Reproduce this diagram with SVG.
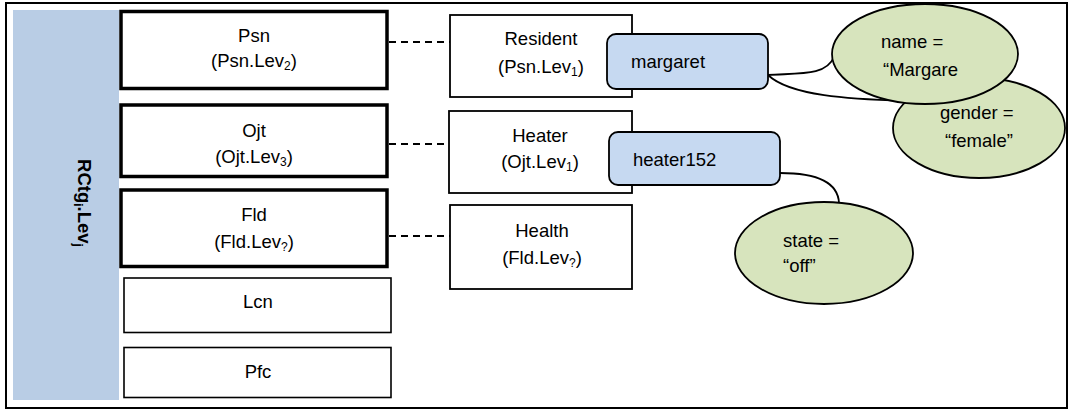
<svg xmlns="http://www.w3.org/2000/svg" width="1070" height="412" viewBox="0 0 1070 412">
  <style>
    text { font-family: "Liberation Sans", Arial, sans-serif; font-size: 18.5px; fill: #000; }
    .mid { text-anchor: middle; }
    .sub { font-size: 12px; }
    .cat { fill: #fff; stroke: #000; stroke-width: 3.5; }
    .catthin { fill: #fff; stroke: #000; stroke-width: 1.6; }
    .cls { fill: #fff; stroke: #000; stroke-width: 1.8; }
    .inst { fill: #c6d9f1; stroke: #000; stroke-width: 1.8; }
    .attr { fill: #d7e4bd; stroke: #000; stroke-width: 1.8; }
    .dash { stroke: #000; stroke-width: 2; stroke-dasharray: 7 5; fill: none; }
    .link { stroke: #000; stroke-width: 1.8; fill: none; }
  </style>

  <!-- outer frame -->
  <rect x="6" y="3" width="1061" height="405" fill="#fff" stroke="#000" stroke-width="2"/>

  <!-- category band -->
  <g id="band">
    <rect x="13" y="10" width="106" height="390" fill="#b9cde5"/>
    <text transform="translate(78,203) rotate(90)" class="mid" font-weight="bold" font-size="17">RCtg<tspan class="sub" dy="4">i</tspan><tspan dy="-4">.Lev</tspan><tspan class="sub" dy="4">j</tspan></text>
  </g>

  <!-- connectors -->
  <g id="connectors">
    <line class="dash" x1="389" y1="42" x2="450" y2="42"/>
    <line class="dash" x1="389" y1="144" x2="449" y2="144"/>
    <line class="dash" x1="389" y1="236" x2="450" y2="236"/>
    <path class="link" d="M768,75 C800,73 826,76 834,57"/>
    <path class="link" d="M768,75 C790,96 850,99 905,101"/>
    <path class="link" d="M780,173 C815,173 838,182 839,203"/>
  </g>

  <!-- category boxes -->
  <g id="psn">
    <rect class="cat" x="121" y="11.5" width="266" height="77"/>
    <text class="mid" x="254" y="42">Psn</text>
    <text class="mid" x="254" y="67">(Psn.Lev<tspan class="sub" dy="3">2</tspan><tspan dy="-3">)</tspan></text>
  </g>
  <g id="ojt">
    <rect class="cat" x="121" y="105" width="266" height="71.5"/>
    <text class="mid" x="254" y="137">Ojt</text>
    <text class="mid" x="254" y="163">(Ojt.Lev<tspan class="sub" dy="3">3</tspan><tspan dy="-3">)</tspan></text>
  </g>
  <g id="fld">
    <rect class="cat" x="121" y="190" width="266" height="76.5"/>
    <text class="mid" x="254" y="221">Fld</text>
    <text class="mid" x="254" y="248">(Fld.Lev<tspan class="sub" dy="3">?</tspan><tspan dy="-3">)</tspan></text>
  </g>
  <g id="lcn">
    <rect class="catthin" x="124" y="278" width="267" height="54.5"/>
    <text class="mid" x="258" y="308">Lcn</text>
  </g>
  <g id="pfc">
    <rect class="catthin" x="124" y="347.5" width="267" height="50"/>
    <text class="mid" x="258" y="378">Pfc</text>
  </g>

  <!-- classes -->
  <g id="resident">
    <rect class="cls" x="450" y="15" width="182" height="82"/>
    <text class="mid" x="541" y="45">Resident</text>
    <text class="mid" x="541" y="73">(Psn.Lev<tspan class="sub" dy="3">1</tspan><tspan dy="-3">)</tspan></text>
  </g>
  <g id="heater">
    <rect class="cls" x="449" y="111" width="183" height="82"/>
    <text class="mid" x="540" y="142">Heater</text>
    <text class="mid" x="540" y="168">(Ojt.Lev<tspan class="sub" dy="3">1</tspan><tspan dy="-3">)</tspan></text>
  </g>
  <g id="health">
    <rect class="cls" x="450" y="205" width="182" height="84"/>
    <text class="mid" x="542" y="237">Health</text>
    <text class="mid" x="542" y="264">(Fld.Lev<tspan class="sub" dy="3">?</tspan><tspan dy="-3">)</tspan></text>
  </g>

  <!-- instances -->
  <g id="margaret">
    <rect class="inst" x="607" y="34" width="161" height="55" rx="9"/>
    <text x="631" y="68">margaret</text>
  </g>
  <g id="heater152">
    <rect class="inst" x="609" y="132" width="171" height="53" rx="9"/>
    <text x="633" y="166">heater152</text>
  </g>

  <!-- attributes -->
  <g id="gender">
    <ellipse class="attr" cx="979" cy="128" rx="86" ry="50"/>
    <text x="940" y="119">gender =</text>
    <text x="945" y="147">“female”</text>
  </g>
  <g id="name">
    <ellipse class="attr" cx="925" cy="54" rx="93" ry="50"/>
    <text x="881" y="48">name =</text>
    <text x="883" y="76">“Margare</text>
  </g>
  <g id="state">
    <ellipse class="attr" cx="824" cy="253" rx="89" ry="51"/>
    <text x="783" y="247">state =</text>
    <text x="783" y="272">“off”</text>
  </g>
</svg>
